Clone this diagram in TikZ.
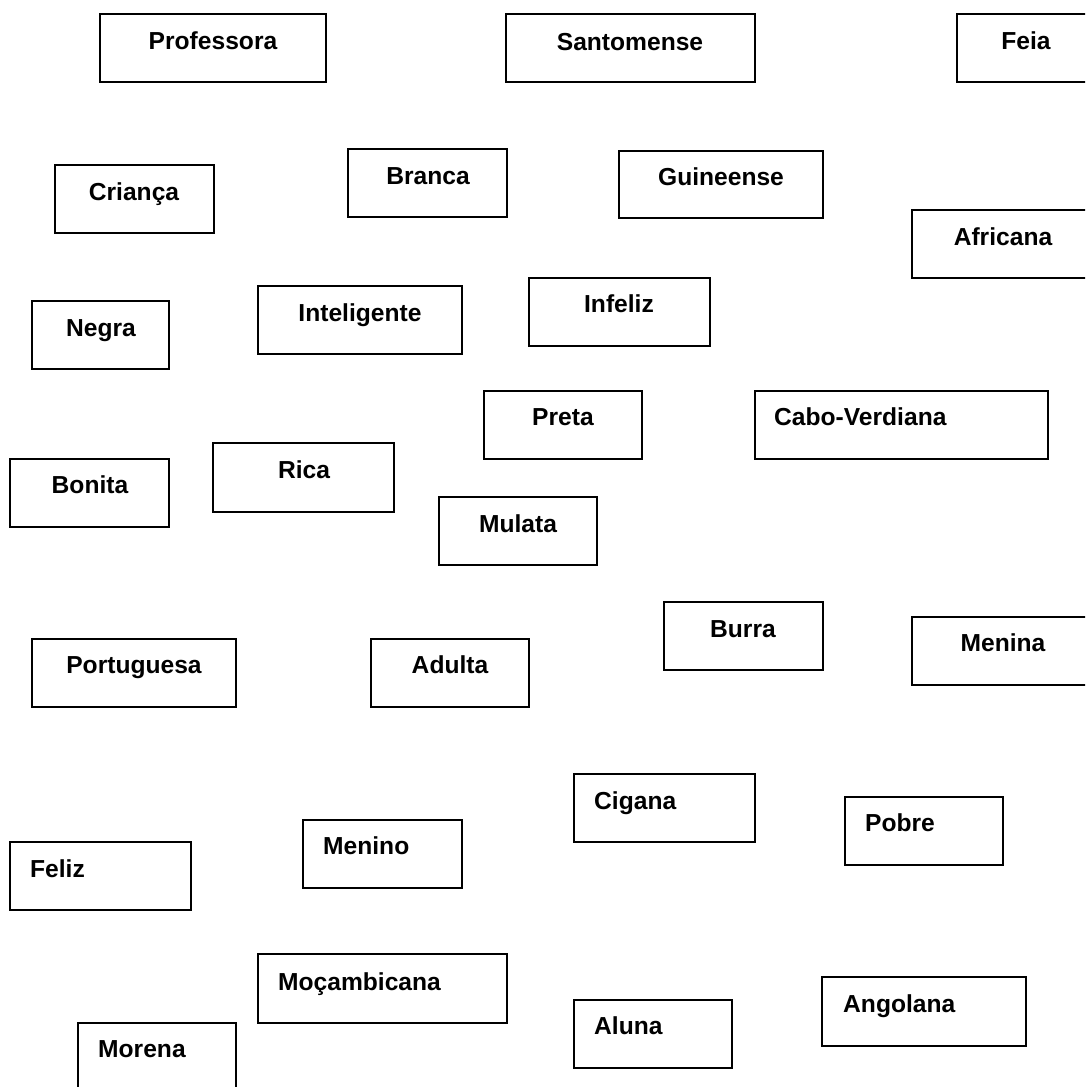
\documentclass[tikz,border=0pt]{standalone}
\usepackage{fontspec}
\setmainfont{Liberation Sans}
\begin{document}
\begin{tikzpicture}[x=1pt,y=-1pt,
  box/.style={draw=black, line width=1.4pt, rectangle, inner sep=0pt, fill=none},
  word/.style={inner sep=0pt, font=\fontsize{24.6}{29}\selectfont\bfseries},
  cw/.style={word, anchor=base},
  lw/.style={word, anchor=base west}]
\useasboundingbox (0,0) rectangle (1085,1087);
\clip (0,0) rectangle (1085,1087);
% boxes
\node[box, minimum width=226pt, minimum height=68pt] (b1)  at (213,48) {};
\node[box, minimum width=249pt, minimum height=68pt] (b2)  at (630.5,48) {};
\node[box, minimum width=138pt, minimum height=68pt] (b3)  at (1026,48) {};
\node[box, minimum width=159pt, minimum height=68pt] (b4)  at (134.5,199) {};
\node[box, minimum width=159pt, minimum height=68pt] (b5)  at (427.5,183) {};
\node[box, minimum width=204pt, minimum height=67pt] (b6)  at (721,184.5) {};
\node[box, minimum width=183pt, minimum height=68pt] (b7)  at (1003.5,244) {};
\node[box, minimum width=137pt, minimum height=68pt] (b8)  at (100.5,335) {};
\node[box, minimum width=204pt, minimum height=68pt] (b9)  at (360,320) {};
\node[box, minimum width=181pt, minimum height=68pt] (b10) at (619.5,312) {};
\node[box, minimum width=158pt, minimum height=68pt] (b11) at (563,425) {};
\node[box, minimum width=293pt, minimum height=68pt] (b12) at (901.5,425) {};
\node[box, minimum width=159pt, minimum height=68pt] (b13) at (89.5,493) {};
\node[box, minimum width=181pt, minimum height=69pt] (b14) at (303.5,477.5) {};
\node[box, minimum width=158pt, minimum height=68pt] (b15) at (518,531) {};
\node[box, minimum width=159pt, minimum height=68pt] (b16) at (743.5,636) {};
\node[box, minimum width=183pt, minimum height=68pt] (b17) at (1003.5,651) {};
\node[box, minimum width=204pt, minimum height=68pt] (b18) at (134,673) {};
\node[box, minimum width=158pt, minimum height=68pt] (b19) at (450,673) {};
\node[box, minimum width=181pt, minimum height=68pt] (b20) at (664.5,808) {};
\node[box, minimum width=158pt, minimum height=68pt] (b21) at (924,831) {};
\node[box, minimum width=159pt, minimum height=68pt] (b22) at (382.5,854) {};
\node[box, minimum width=181pt, minimum height=68pt] (b23) at (100.5,876) {};
\node[box, minimum width=249pt, minimum height=69pt] (b24) at (382.5,988.5) {};
\node[box, minimum width=204pt, minimum height=69pt] (b25) at (924,1011.5) {};
\node[box, minimum width=158pt, minimum height=68pt] (b26) at (653,1034) {};
\node[box, minimum width=158pt, minimum height=68pt] (b27) at (157,1057) {};
% words
\node[cw] (t1)  at (213,49)  {Professora};
\node[cw] (t2)  at (630,50)  {Santomense};
\node[cw] (t3)  at (1026,49) {Feia};
\node[cw] (t4)  at (134,200) {Criança};
\node[cw] (t5)  at (428,184) {Branca};
\node[cw] (t6)  at (721,185) {Guineense};
\node[cw] (t7)  at (1003,245) {Africana};
\node[cw] (t8)  at (101,336) {Negra};
\node[cw] (t9)  at (360,321) {Inteligente};
\node[cw] (t10) at (619,312) {Infeliz};
\node[cw] (t11) at (563,425) {Preta};
\node[lw] (t12) at (774,425) {Cabo-Verdiana};
\node[cw] (t13) at (90,493)  {Bonita};
\node[cw] (t14) at (304,478) {Rica};
\node[cw] (t15) at (518,532) {Mulata};
\node[cw] (t16) at (743,637) {Burra};
\node[cw] (t17) at (1003,651) {Menina};
\node[cw] (t18) at (134,673) {Portuguesa};
\node[cw] (t19) at (450,673) {Adulta};
\node[lw] (t20) at (594,809) {Cigana};
\node[lw] (t21) at (865,831) {Pobre};
\node[lw] (t22) at (323,854) {Menino};
\node[lw] (t23) at (30,877)  {Feliz};
\node[lw] (t24) at (278,990) {Moçambicana};
\node[lw] (t25) at (843,1012) {Angolana};
\node[lw] (t26) at (594,1034) {Aluna};
\node[lw] (t27) at (98,1057) {Morena};
\end{tikzpicture}
\end{document}
